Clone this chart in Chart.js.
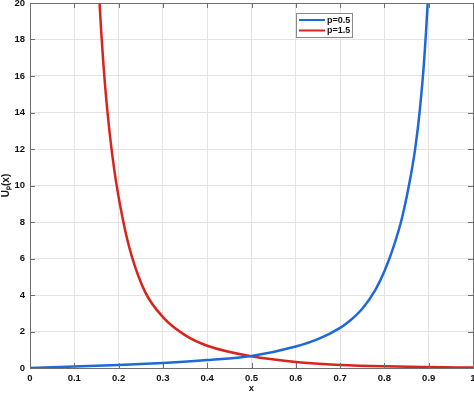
<!DOCTYPE html>
<html>
<head>
<meta charset="utf-8">
<script src="https://cdn.jsdelivr.net/npm/chart.js@4/dist/chart.umd.min.js"></script>
<style>
  html, body { margin: 0; padding: 0; background: #fff; }
  #wrap { width: 474px; height: 394px; }
</style>
</head>
<body>
<div id="wrap"><canvas id="chart" width="474" height="394"></canvas></div>
<script>
// valores
const blueX = [0, 0.1, 0.2, 0.3, 0.4, 0.5, 0.6, 0.65, 0.7, 0.72, 0.75, 0.78, 0.8, 0.82, 0.84, 0.86, 0.87, 0.88, 0.89, 0.9, 0.905];
const blueY = [0, 0.08, 0.16, 0.28, 0.44, 0.66, 1.18, 1.58, 2.2, 2.55, 3.25, 4.3, 5.3, 6.6, 8.25, 10.6, 12.1, 14.15, 16.95, 21.1, 24];
const redX = [0.15, 0.157, 0.165, 0.175, 0.19, 0.21, 0.23, 0.26, 0.3, 0.35, 0.4, 0.5, 0.6, 0.7, 0.8, 0.9, 1.0];
const redY = [23.7, 20, 16.9, 14.0, 10.9, 8.1, 6.1, 4.16, 2.79, 1.8, 1.22, 0.64, 0.33, 0.17, 0.09, 0.05, 0.025];
const labels = ['p=0.5', 'p=1.5'];
const xTicks = [0, 0.1, 0.2, 0.3, 0.4, 0.5, 0.6, 0.7, 0.8, 0.9, 1];
const yTicks = [0, 2, 4, 6, 8, 10, 12, 14, 16, 18, 20];

const azul = '#1f68d8';
const vermelho = '#d8241a';
const fonte = 'Liberation Sans, Arial, sans-serif';

function pontos(xs, ys) {
    return xs.map((x, i) => ({ x: x, y: ys[i] }));
}

// caixa, ticks para dentro e legenda (estilo MATLAB)
const moldura = {
    id: 'moldura',
    afterDraw(chart) {
        const ctx = chart.ctx;
        const a = chart.chartArea;
        const sx = chart.scales.x, sy = chart.scales.y;
        ctx.save();
        ctx.strokeStyle = '#6e6e6e';
        ctx.lineWidth = 1;
        ctx.beginPath();
        xTicks.forEach(v => {
            const px = Math.round(sx.getPixelForValue(v)) + 0.5;
            ctx.moveTo(px, a.bottom); ctx.lineTo(px, a.bottom - 5);
            ctx.moveTo(px, a.top); ctx.lineTo(px, a.top + 5);
        });
        yTicks.forEach(v => {
            const py = Math.round(sy.getPixelForValue(v)) + 0.5;
            ctx.moveTo(a.left, py); ctx.lineTo(a.left + 5, py);
            ctx.moveTo(a.right, py); ctx.lineTo(a.right - 5, py);
        });
        ctx.stroke();
        ctx.beginPath();
        ctx.rect(Math.round(a.left) + 0.5, Math.round(a.top) + 0.5, Math.round(a.right - a.left), Math.round(a.bottom - a.top));
        ctx.stroke();

        // legenda
        const lx = 296, ly = 13, lw = 56, lh = 24;
        ctx.fillStyle = '#fff';
        ctx.fillRect(lx, ly, lw, lh);
        ctx.strokeStyle = '#8a8a8a';
        ctx.strokeRect(lx + 0.5, ly + 0.5, lw, lh);
        ctx.font = 'bold 9px ' + fonte;
        ctx.textBaseline = 'middle';
        chart.data.datasets.forEach((ds, i) => {
            const yy = ly + 7 + i * 10.5;
            ctx.strokeStyle = ds.borderColor;
            ctx.lineWidth = 2;
            ctx.beginPath();
            ctx.moveTo(lx + 3, yy); ctx.lineTo(lx + 29, yy);
            ctx.stroke();
            ctx.fillStyle = '#111';
            ctx.fillText(ds.label, lx + 31, yy + 0.5);
        });
        ctx.restore();
    }
};

const ctx = document.getElementById('chart').getContext('2d');
const chart = new Chart(ctx, {
    type: 'line',
    data: {
        datasets: [{
            label: labels[0],
            data: pontos(blueX, blueY),
            borderColor: azul,
            borderWidth: 2.5,
            pointRadius: 0,
            fill: false,
            cubicInterpolationMode: 'monotone'
        }, {
            label: labels[1],
            data: pontos(redX, redY),
            borderColor: vermelho,
            borderWidth: 2.5,
            pointRadius: 0,
            fill: false,
            cubicInterpolationMode: 'monotone'
        }]
    },
    options: {
        responsive: false,
        animation: false,
        layout: { padding: { top: 3, right: 1, left: 0, bottom: 0 } },
        plugins: {
            legend: { display: false },
            tooltip: { enabled: false }
        },
        scales: {
            x: {
                type: 'linear',
                min: 0,
                max: 1,
                afterBuildTicks: s => { s.ticks = xTicks.map(v => ({ value: v })); },
                afterFit: s => { s.height = 26; s.paddingLeft = 0; s.paddingRight = 0; },
                ticks: {
                    autoSkip: false,
                    maxRotation: 0,
                    padding: 5,
                    color: '#111',
                    font: { family: fonte, size: 9.5, weight: 'bold' },
                    callback: v => String(+v.toFixed(1))
                },
                grid: { color: '#e4e4e4', drawTicks: false },
                border: { display: true, color: '#6e6e6e' },
                title: {
                    display: true,
                    text: 'x',
                    color: '#111',
                    padding: { top: 2, bottom: 0 },
                    font: { family: fonte, size: 9.5, weight: 'bold' }
                }
            },
            y: {
                type: 'linear',
                min: 0,
                max: 20,
                afterBuildTicks: s => { s.ticks = yTicks.map(v => ({ value: v })); },
                afterFit: s => { s.width = 30; s.paddingTop = 0; s.paddingBottom = 0; },
                ticks: {
                    padding: 5,
                    color: '#111',
                    font: { family: fonte, size: 9.5, weight: 'bold' }
                },
                grid: { color: '#e4e4e4', drawTicks: false },
                border: { display: true, color: '#6e6e6e' },
                title: {
                    display: true,
                    text: 'Uₚ(x)',
                    color: '#111',
                    padding: { top: 0, bottom: 0 },
                    font: { family: fonte, size: 10, weight: 'bold' }
                }
            }
        }
    },
    plugins: [moldura]
});
</script>
</body>
</html>
